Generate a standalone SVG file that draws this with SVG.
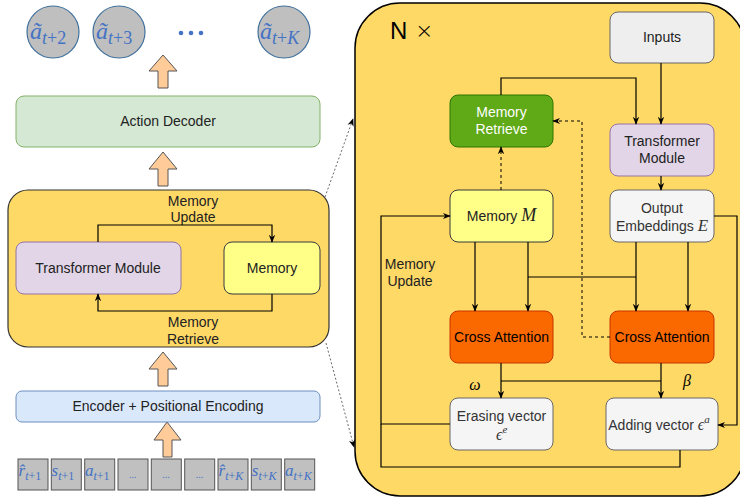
<svg xmlns="http://www.w3.org/2000/svg" width="740" height="499" viewBox="0 0 740 499">
<defs>
<marker id="arr" viewBox="0 0 10 10" refX="9" refY="5" markerWidth="8" markerHeight="8" orient="auto" markerUnits="userSpaceOnUse">
<path d="M0,1 L10,5 L0,9 L3,5 Z" fill="#000"/>
</marker>
<style>
.t{font-family:"Liberation Sans",Arial,sans-serif;font-size:14px;fill:#222;text-anchor:middle}
.m{font-family:"Liberation Serif","DejaVu Serif",serif;font-style:italic}
.b{fill:#4472c4;font-family:"Liberation Serif","DejaVu Serif",serif;font-style:italic}
.ln{fill:none;stroke:#000;stroke-width:1.2}
.ar{fill:none;stroke:#000;stroke-width:1.2;marker-end:url(#arr)}
.dash{fill:none;stroke:#000;stroke-width:1;stroke-dasharray:3 3}
.blk{fill:#ffcc99;stroke:#555;stroke-width:1}
.tok{fill:#c0c0c0;stroke:#555;stroke-width:1}
.cir{fill:#bfbfbf;stroke:#41719c;stroke-width:1.2}
</style>
</defs>
<rect width="740" height="499" fill="#fff"/>

<!-- Left: output circles -->
<g id="outputs">
<circle class="cir" cx="53" cy="32" r="26"/>
<text class="b" x="30" y="39"><tspan font-size="24">ã</tspan><tspan font-size="18" dy="5">t</tspan><tspan font-size="18" font-style="normal">+2</tspan></text>
<circle class="cir" cx="119" cy="32" r="26"/>
<text class="b" x="96" y="39"><tspan font-size="24">ã</tspan><tspan font-size="18" dy="5">t</tspan><tspan font-size="18" font-style="normal">+3</tspan></text>
<circle cx="181" cy="33" r="2.3" fill="#4472c4"/>
<circle cx="191" cy="33" r="2.3" fill="#4472c4"/>
<circle cx="201" cy="33" r="2.3" fill="#4472c4"/>
<circle class="cir" cx="284" cy="32" r="26"/>
<text class="b" x="260" y="39"><tspan font-size="24">ã</tspan><tspan font-size="18" dy="5">t</tspan><tspan font-size="18" font-style="normal">+</tspan><tspan font-size="18">K</tspan></text>
</g>

<!-- block arrows -->
<g id="blockarrows">
<path class="blk" d="M163,55 L177,71 L168,71 L168,88 L158,88 L158,71 L149,71 Z"/>
<path class="blk" d="M163,152 L177,169 L168,169 L168,186 L158,186 L158,169 L149,169 Z"/>
<path class="blk" d="M163,352 L177,369 L168,369 L168,386 L158,386 L158,369 L149,369 Z"/>
<path class="blk" d="M167,422 L181,440 L172,440 L172,457 L163,457 L163,440 L154,440 Z"/>
</g>

<g id="action-decoder">
<rect x="16" y="96" width="304" height="51" rx="8" fill="#d5e8d4" stroke="#82b366"/>
<text class="t" x="168" y="126">Action Decoder</text>
</g>

<g id="left-panel">
<rect x="8" y="190" width="321" height="157" rx="20" fill="#ffd966" stroke="#333" stroke-width="1.2"/>
</g>
<g id="left-transformer">
<rect x="16" y="242" width="165" height="52" rx="8" fill="#e1d5e7" stroke="#9673a6"/>
<text class="t" x="98" y="273">Transformer Module</text>
</g>
<g id="left-memory">
<rect x="224" y="242" width="96" height="52" rx="8" fill="#ffff88" stroke="#36393d"/>
<text class="t" x="272" y="273">Memory</text>
</g>
<g id="left-labels">
<text class="t" x="193" y="206">Memory</text>
<text class="t" x="193" y="222">Update</text>
<text class="t" x="193" y="327">Memory</text>
<text class="t" x="193" y="344">Retrieve</text>
</g>

<g id="encoder">
<rect x="16" y="391" width="304" height="31" rx="6" fill="#dae8fc" stroke="#6c8ebf"/>
<text class="t" x="168" y="411">Encoder + Positional Encoding</text>
</g>

<g id="tokens">
<rect class="tok" x="18" y="459" width="30" height="31"/>
<rect class="tok" x="51.3" y="459" width="30" height="31"/>
<rect class="tok" x="84.7" y="459" width="30" height="31"/>
<rect class="tok" x="118" y="459" width="30" height="31"/>
<rect class="tok" x="151.3" y="459" width="30" height="31"/>
<rect class="tok" x="184.7" y="459" width="30" height="31"/>
<rect class="tok" x="218" y="459" width="30" height="31"/>
<rect class="tok" x="251.3" y="459" width="30" height="31"/>
<rect class="tok" x="284.7" y="459" width="30" height="31"/>
<text class="b" x="18.5" y="476"><tspan font-size="17">r̂</tspan><tspan font-size="12" dy="4">t</tspan><tspan font-size="12" font-style="normal">+1</tspan></text>
<text class="b" x="51.5" y="476"><tspan font-size="17">s</tspan><tspan font-size="12" dy="4">t</tspan><tspan font-size="12" font-style="normal">+1</tspan></text>
<text class="b" x="85" y="476"><tspan font-size="17">a</tspan><tspan font-size="12" dy="4">t</tspan><tspan font-size="12" font-style="normal">+1</tspan></text>
<text class="b" x="133" y="478" font-size="10" font-style="normal" text-anchor="middle">...</text>
<text class="b" x="166.3" y="478" font-size="10" font-style="normal" text-anchor="middle">...</text>
<text class="b" x="199.7" y="478" font-size="10" font-style="normal" text-anchor="middle">...</text>
<text class="b" x="218.5" y="476"><tspan font-size="17">r̂</tspan><tspan font-size="12" dy="4">t</tspan><tspan font-size="12" font-style="normal">+</tspan><tspan font-size="12">K</tspan></text>
<text class="b" x="251.8" y="476"><tspan font-size="17">s</tspan><tspan font-size="12" dy="4">t</tspan><tspan font-size="12" font-style="normal">+</tspan><tspan font-size="12">K</tspan></text>
<text class="b" x="285" y="476"><tspan font-size="17">a</tspan><tspan font-size="12" dy="4">t</tspan><tspan font-size="12" font-style="normal">+</tspan><tspan font-size="12">K</tspan></text>
</g>

<!-- Right panel -->
<g id="right-panel">
<rect x="355" y="3" width="390" height="493" rx="45" fill="#ffd966" stroke="#000" stroke-width="1.5"/>
<text x="390" y="39" font-family="Liberation Sans,Arial,sans-serif" font-size="24" fill="#000">N</text>
<text x="415" y="38" font-family="DejaVu Sans,sans-serif" font-size="22" font-weight="200" fill="#000">×</text>
</g>

<g id="inputs">
<rect x="610" y="12" width="104" height="51" rx="8" fill="#eeeeee" stroke="#666"/>
<text class="t" x="662" y="42">Inputs</text>
</g>
<g id="memory-retrieve">
<rect x="450" y="95" width="103" height="52" rx="8" fill="#60a917" stroke="#2d7600"/>
<text class="t" x="501.5" y="117" style="fill:#fff">Memory</text>
<text class="t" x="501.5" y="134" style="fill:#fff">Retrieve</text>
</g>
<g id="transformer-module">
<rect x="610" y="124" width="104" height="52" rx="8" fill="#e1d5e7" stroke="#9673a6"/>
<text class="t" x="662" y="146">Transformer</text>
<text class="t" x="662" y="163">Module</text>
</g>
<g id="memory-m">
<rect x="450" y="190" width="103" height="52" rx="8" fill="#ffff88" stroke="#36393d"/>
<text class="t" x="501.5" y="221">Memory <tspan class="m" font-size="18">M</tspan></text>
</g>
<g id="output-embeddings">
<rect x="610" y="190" width="104" height="52" rx="8" fill="#f5f5f5" stroke="#666"/>
<text class="t" x="662" y="213" style="fill:#333">Output</text>
<text class="t" x="662" y="231" style="fill:#333">Embeddings <tspan class="m" font-size="17">E</tspan></text>
</g>
<g id="cross-attention-1">
<rect x="450" y="311" width="103" height="52" rx="8" fill="#fa6800" stroke="#c73500"/>
<text class="t" x="501.5" y="342" style="fill:#000">Cross Attention</text>
</g>
<g id="cross-attention-2">
<rect x="610" y="311" width="104" height="52" rx="8" fill="#fa6800" stroke="#c73500"/>
<text class="t" x="662" y="342" style="fill:#000">Cross Attention</text>
</g>
<g id="erasing-vector">
<rect x="450" y="398" width="103" height="52" rx="8" fill="#f5f5f5" stroke="#666"/>
<text class="t" x="501.5" y="421" style="fill:#333">Erasing vector</text>
<text class="m" x="496" y="440" font-size="16" fill="#333">ϵ<tspan font-size="11" dy="-7">e</tspan></text>
</g>
<g id="adding-vector">
<rect x="606" y="398" width="112" height="52" rx="8" fill="#f5f5f5" stroke="#666"/>
<text class="t" x="659" y="430" style="fill:#333">Adding vector <tspan class="m" font-size="16">ϵ</tspan><tspan class="m" font-size="11" dy="-7">a</tspan></text>
</g>
<g id="labels">
<text class="t" x="410" y="269">Memory</text>
<text class="t" x="410" y="286">Update</text>
<text class="m" x="475" y="390" font-size="16" fill="#000" text-anchor="middle">ω</text>
<text class="m" x="687" y="386" font-size="16" fill="#000" text-anchor="middle">β</text>
</g>

<g id="connectors">
<path class="ar" d="M98,242 V225 H272 V242"/>
<path class="ar" d="M272,294 V311 H98 V294"/>
<path d="M325,197 L353,119" fill="none" stroke="#444" stroke-width="0.8" stroke-dasharray="2 2" marker-end="url(#arr)"/>
<path d="M326,343 L354,447" fill="none" stroke="#444" stroke-width="0.8" stroke-dasharray="2 2" marker-end="url(#arr)"/>
<path class="ar" d="M501,95 V78 H636 V124"/>
<path class="ar" d="M661,63 V124"/>
<path class="ar" d="M661,176 V190"/>
<path class="dash" d="M501,190 V147" marker-end="url(#arr)"/>
<path class="dash" d="M610,337 H582 V121 H553" marker-end="url(#arr)"/>
<path class="ar" d="M475,242 V311"/>
<path class="ar" d="M528,242 V311"/>
<path class="ar" d="M636,242 V311"/>
<path class="ar" d="M688,242 V311"/>
<path class="ln" d="M528,277 H636"/>
<path class="ar" d="M501,363 V398"/>
<path class="ar" d="M661,363 V398"/>
<path class="ln" d="M501,381 H661"/>
<path class="ar" d="M714,216 H737 V425 H718"/>
<path class="ar" d="M450,424 H381 V216 H450"/>
<path class="ln" d="M680,450 V467 H381 V424"/>
</g>
</svg>
